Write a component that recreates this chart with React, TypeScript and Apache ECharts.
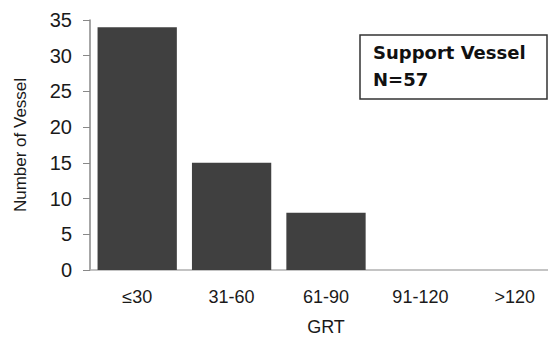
import React, { useEffect, useRef } from "react";
import * as echarts from "echarts";

const categories = ["≤30", "31-60", "61-90", "91-120", ">120"];
const vesselCounts = [34, 15, 8, 0, 0];
const yTicks = { min: 0, max: 35, interval: 5 };
const boxLines = ["Support Vessel", "N=57"];

const SANS = "'Liberation Sans', Arial, sans-serif";

export default function App() {
  const ref = useRef<HTMLDivElement>(null);
  useEffect(() => {
    if (!ref.current) return;
    const chart = echarts.init(ref.current, null, { renderer: "svg" });
    chart.setOption({
      animation: false,
      grid: { left: 90, right: 0, top: 20, bottom: 73 },
      xAxis: {
        type: "category",
        data: categories,
        axisTick: { show: false },
        axisLine: { lineStyle: { color: "#b0b0b0", width: 1.5 } },
        axisLabel: { color: "#1a1a1a", fontFamily: SANS, fontSize: 18, margin: 18 },
        name: "GRT",
        nameLocation: "middle",
        nameGap: 48,
        nameTextStyle: { color: "#1a1a1a", fontFamily: SANS, fontSize: 18 },
      },
      yAxis: {
        type: "value",
        min: yTicks.min,
        max: yTicks.max,
        interval: yTicks.interval,
        splitLine: { show: false },
        axisLine: { show: true, lineStyle: { color: "#888888", width: 1.5 } },
        axisTick: { show: true, inside: false, length: 7, lineStyle: { color: "#888888" } },
        axisLabel: { color: "#1a1a1a", fontFamily: SANS, fontSize: 20, margin: 18 },
        name: "Number of Vessel",
        nameLocation: "middle",
        nameGap: 61,
        nameRotate: 90,
        nameTextStyle: { color: "#1a1a1a", fontFamily: SANS, fontSize: 17 },
      },
      series: [
        {
          type: "bar",
          data: vesselCounts,
          barCategoryGap: "16%",
          itemStyle: { color: "#404040" },
        },
      ],
      graphic: [
        {
          type: "rect",
          shape: { x: 360, y: 35, width: 187, height: 64 },
          style: { fill: "#ffffff", stroke: "#333333", lineWidth: 1.5 },
        },
        {
          type: "text",
          x: 373,
          y: 39,
          style: {
            text: boxLines.join("\n"),
            fill: "#111111",
            font: "bold 18px 'DejaVu Sans', Verdana, sans-serif",
            lineHeight: 27,
          },
        },
      ],
    });
    return () => chart.dispose();
  }, []);
  return (
    <div style={{ position: "absolute", left: 0, top: 0, width: 548, height: 343, overflow: "hidden" }}>
      <div ref={ref} style={{ width: 562, height: 343 }} />
    </div>
  );
}
